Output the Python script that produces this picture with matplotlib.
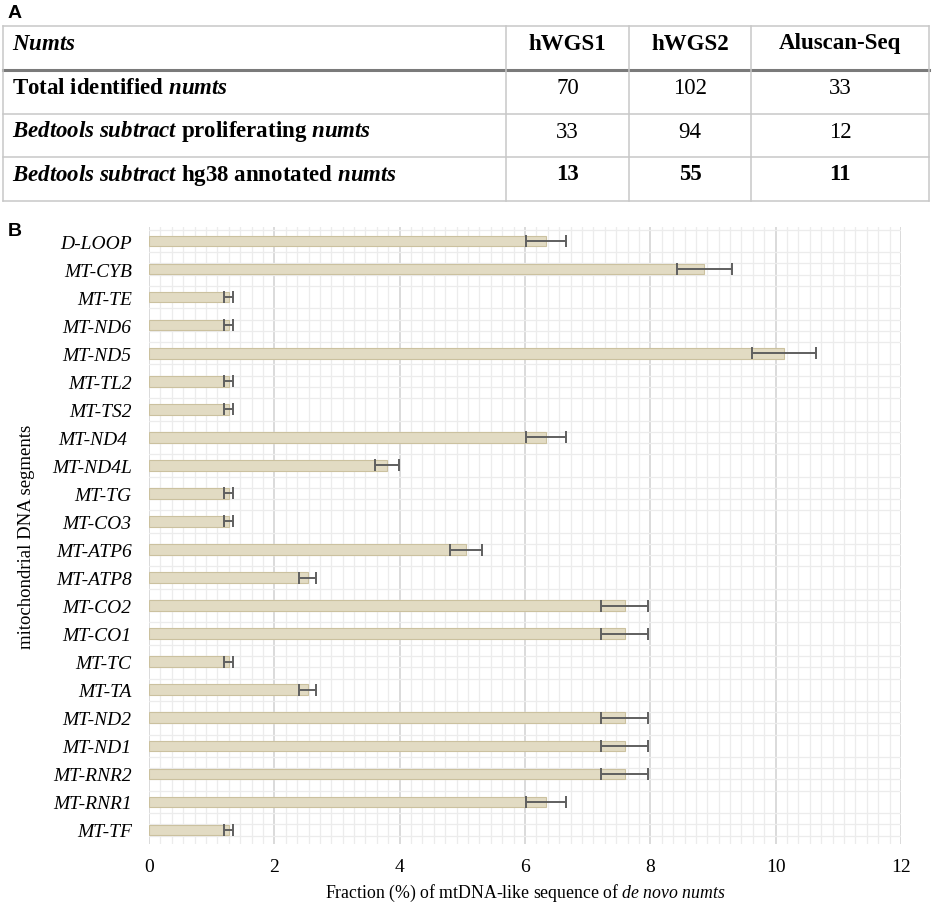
import matplotlib
matplotlib.use('Agg')
import matplotlib.pyplot as plt
from matplotlib.ticker import MultipleLocator

plt.rcParams['font.family'] = ['Liberation Serif', 'DejaVu Serif']
plt.rcParams['mathtext.fontset'] = 'custom'
plt.rcParams['mathtext.rm'] = 'Liberation Serif'
plt.rcParams['mathtext.it'] = 'Liberation Serif:italic'
plt.rcParams['mathtext.bf'] = 'Liberation Serif:bold'
plt.rcParams['mathtext.bfit'] = 'Liberation Serif:italic:bold'

# panel A table
table_cols = ['hWGS1', 'hWGS2', 'Aluscan-Seq']
table_rows = [r'Total identified $\mathbfit{numts}$',
              r'$\mathbfit{Bedtools\ subtract}$ proliferating $\mathbfit{numts}$',
              r'$\mathbfit{Bedtools\ subtract}$ hg38 annotated $\mathbfit{numts}$']
table_vals = [[70, 102, 33],
              [33, 94, 12],
              [13, 55, 11]]

# panel B bars
segments = ['D-LOOP', 'MT-CYB', 'MT-TE', 'MT-ND6', 'MT-ND5', 'MT-TL2', 'MT-TS2',
            'MT-ND4 ', 'MT-ND4L', 'MT-TG', 'MT-CO3', 'MT-ATP6', 'MT-ATP8', 'MT-CO2',
            'MT-CO1', 'MT-TC', 'MT-TA', 'MT-ND2', 'MT-ND1', 'MT-RNR2', 'MT-RNR1', 'MT-TF']
fraction = [6.33, 8.86, 1.27, 1.27, 10.13, 1.27, 1.27, 6.33, 3.80, 1.27, 1.27,
            5.06, 2.53, 7.59, 7.59, 1.27, 2.53, 7.59, 7.59, 7.59, 6.33, 1.27]
error = [0.32, 0.44, 0.07, 0.07, 0.51, 0.07, 0.07, 0.32, 0.19, 0.07, 0.07,
         0.25, 0.13, 0.38, 0.38, 0.07, 0.13, 0.38, 0.38, 0.38, 0.32, 0.07]

W, H = 934, 904
fig = plt.figure(figsize=(W / 100, H / 100), dpi=100)

# overlay in pixel coords for the table
tab = fig.add_axes([0, 0, 1, 1])
tab.set_xlim(0, W)
tab.set_ylim(H, 0)
tab.axis('off')

col_edges = [3, 506, 629, 751, 929]
row_edges = [27, 71, 115, 158, 202]
line_c = '#c8c8c8'
for yy in row_edges:
    if yy == 71:
        tab.plot([3, 929], [yy, yy], color='#7a7a7a', lw=2.2)
    else:
        tab.plot([3, 929], [yy, yy], color=line_c, lw=1.1)
for xx in col_edges:
    tab.plot([xx, xx], [27, 202], color=line_c, lw=1.1)

fs = 16.5
tab.text(12, 44, r'$\mathbfit{Numts}$', fontsize=fs, va='center', ha='left')
for j, name in enumerate(table_cols):
    cx = (col_edges[j + 1] + col_edges[j + 2]) / 2
    tab.text(cx, 44, name, fontsize=fs, fontweight='bold', va='center', ha='center')
for i, lab in enumerate(table_rows):
    cy = row_edges[i + 1] + 17
    tab.text(12, cy, lab, fontsize=fs, fontweight='bold', va='center', ha='left')
    for j, v in enumerate(table_vals[i]):
        cx = (col_edges[j + 1] + col_edges[j + 2]) / 2
        tab.text(cx, cy, str(v), fontsize=fs, va='center', ha='center',
                 fontweight='bold' if i == 2 else 'normal')

tab.text(8, 13, 'A', fontsize=14, fontweight='bold', family='Liberation Sans',
         va='center', ha='left')
tab.text(8, 232, 'B', fontsize=14, fontweight='bold', family='Liberation Sans',
         va='center', ha='left')

# bar chart
ax = fig.add_axes([149 / W, 1 - 845 / H, (901 - 149) / W, (845 - 228) / H])
y = list(range(len(segments)))
ax.barh(y, fraction, height=0.38, color='#e2dbc3', edgecolor='#cbc19f', linewidth=0.8,
        xerr=error, zorder=3,
        error_kw=dict(ecolor='#5f5f5f', elinewidth=1.4, capsize=4, capthick=1.4))
ax.set_ylim(len(segments) - 0.5, -0.5)
ax.set_xlim(0, 12)
ax.set_xticks(range(0, 13, 2))
ax.set_yticks(y)
ax.set_yticklabels(segments, fontstyle='italic', fontsize=14)
ax.xaxis.set_minor_locator(MultipleLocator(2 / 11))
ax.yaxis.set_minor_locator(MultipleLocator(0.4))
ax.set_axisbelow(True)
ax.grid(which='minor', color='#ececec', lw=0.9)
ax.grid(which='major', axis='x', color='#d4d4d4', lw=1.2)
ax.grid(which='major', axis='y', visible=False)
ax.tick_params(which='both', length=0)
ax.tick_params(axis='x', pad=10, labelsize=14)
ax.tick_params(axis='y', pad=12.5)
for s in ax.spines.values():
    s.set_visible(False)

ax.set_xlabel(r'Fraction (%) of mtDNA-like sequence of $\mathit{de\ novo\ numts}$', fontsize=12.8)
ax.set_ylabel('mitochondrial DNA segments', fontsize=13.5)
ax.xaxis.set_label_coords(0.5, -0.062)
ax.yaxis.set_label_coords(-0.152, 0.5)

fig.savefig('out.png', dpi=100)
